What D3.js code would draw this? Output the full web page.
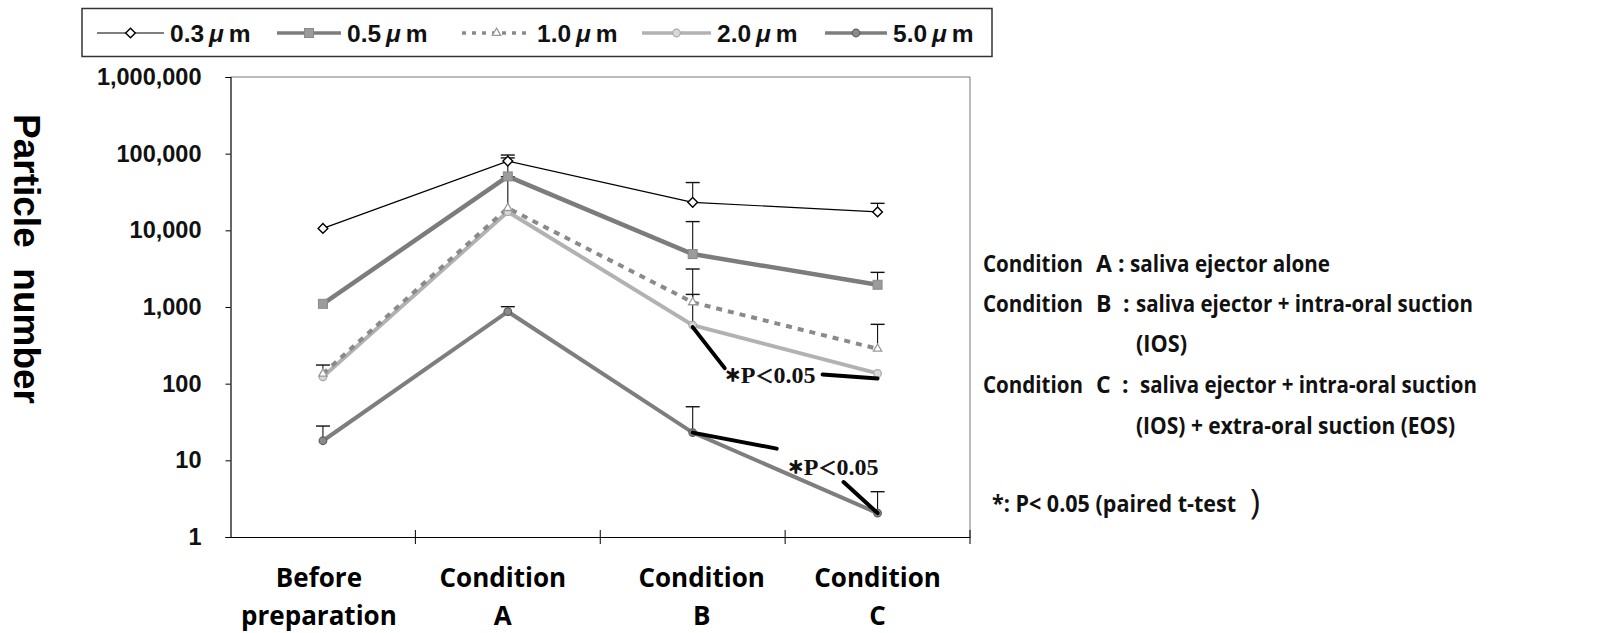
<!DOCTYPE html>
<html>
<head>
<meta charset="utf-8">
<script src="https://cdn.jsdelivr.net/npm/d3@7"></script>
<style>
  body { margin: 0; background: #fff; }
  svg { display: block; }
</style>
</head>
<body>
<svg width="1622" height="633"></svg>
<script>
// categories on the x axis
const categories = ["Before preparation", "Condition A", "Condition B", "Condition C"];
const categoryLines = [["Before", "preparation"], ["Condition", "A"], ["Condition", "B"], ["Condition", "C"]];

// particle sizes (legend)
const sizeLabels = ["0.3", "0.5", "1.0", "2.0", "5.0"];

// mean particle numbers per category
const p03 = [10600, 80000, 23200, 17400];
const p05 = [1100, 50500, 4900, 1950];
const p10 = [135, 19500, 1150, 285];
const p20 = [123, 17500, 580, 136];
const p50 = [18, 870, 23, 2.05];

// upper end of error bars (null = no bar visible)
const e03 = [null, 96000, 42000, 22500];
const e05 = [null, 88000, 13000, 2830];
const e10 = [175, 50000, 3130, 594];
const e20 = [null, null, 1460, null];
const e50 = [28, 1010, 50, 3.9];

const yTicks = [1, 10, 100, 1000, 10000, 100000, 1000000];

// right-hand explanation
const notes = [
    { cond: "A", text: "saliva ejector alone", colonX: 1118, tx: 1130, w: 200, y: 272 },
    { cond: "B", text: "saliva ejector + intra-oral suction", colonX: 1123, tx: 1136, w: 337, y: 312 },
    { cond: "", text: "(IOS)", tx: 1136, w: 51, y: 352 },
    { cond: "C", text: "saliva ejector + intra-oral suction", colonX: 1122, tx: 1140, w: 337, y: 393 },
    { cond: "", text: "(IOS) + extra-oral suction (EOS)", tx: 1136, w: 319, y: 434 }
];

const svg = d3.select("svg");
const plotL = 230.5, plotR = 970, plotT = 77, plotB = 537;

const x = d3.scaleBand().domain(categories).range([plotL, plotR]);
const y = d3.scaleLog().domain([1, 1e6]).range([plotB, plotT]);
const cx = i => x(categories[i]) + x.bandwidth() / 2;

const series = [
    { vals: p03, err: e03, color: "#000", width: 1.2, dash: null, marker: "diamond" },
    { vals: p05, err: e05, color: "#7c7c7c", width: 4.5, dash: null, marker: "square" },
    { vals: p10, err: e10, color: "#8a8a8a", width: 4, dash: "6,6", marker: "triangle" },
    { vals: p20, err: e20, color: "#b2b2b2", width: 4, dash: null, marker: "circle" },
    { vals: p50, err: e50, color: "#7e7e7e", width: 4, dash: null, marker: "circle5" }
];

function drawMarker(g, type, px, py) {
    if (type === "diamond") {
        g.append("path").attr("d", d3.symbol(d3.symbolDiamond2, 60)())
            .attr("transform", `translate(${px},${py})`)
            .attr("fill", "#fff").attr("stroke", "#000").attr("stroke-width", 1.4);
    } else if (type === "square") {
        g.append("rect").attr("x", px - 4.5).attr("y", py - 4.5).attr("width", 9).attr("height", 9)
            .attr("fill", "#9c9c9c").attr("stroke", "#8a8a8a");
    } else if (type === "triangle") {
        g.append("path").attr("d", d3.symbol(d3.symbolTriangle2, 50)())
            .attr("transform", `translate(${px},${py})`)
            .attr("fill", "#fff").attr("stroke", "#9a9a9a").attr("stroke-width", 1.3);
    } else if (type === "circle") {
        g.append("circle").attr("cx", px).attr("cy", py).attr("r", 3.8)
            .attr("fill", "#d8d8d8").attr("stroke", "#a8a8a8").attr("stroke-width", 1.2);
    } else {
        g.append("circle").attr("cx", px).attr("cy", py).attr("r", 3.8)
            .attr("fill", "#8a8a8a").attr("stroke", "#5e5e5e").attr("stroke-width", 1.2);
    }
}

// plot frame (top / right in grey)
svg.append("line").attr("x1", plotL).attr("x2", plotR).attr("y1", plotT).attr("y2", plotT)
    .attr("stroke", "#777").attr("stroke-width", 1);
svg.append("line").attr("x1", plotR).attr("x2", plotR).attr("y1", plotT).attr("y2", plotB)
    .attr("stroke", "#777").attr("stroke-width", 1);

// y axis
const yAxis = svg.append("g").attr("transform", `translate(${plotL},0)`)
    .call(d3.axisLeft(y).tickValues(yTicks).tickFormat(d3.format(",")).tickSize(5).tickPadding(24));
yAxis.select(".domain").attr("stroke", "#000").attr("stroke-width", 1.2);
yAxis.selectAll(".tick line").attr("stroke", "#000");
yAxis.selectAll(".tick text")
    .attr("font-family", "'Liberation Sans', Arial, sans-serif")
    .attr("font-weight", "bold").attr("font-size", 23.5).attr("fill", "#111");

// x axis
const xAxis = svg.append("g").attr("transform", `translate(0,${plotB})`)
    .call(d3.axisBottom(x).tickSize(0).tickFormat(""));
xAxis.select(".domain").attr("stroke", "#000").attr("stroke-width", 1.2);
svg.append("g").selectAll("line")
    .data(categories.slice(1).map(c => x(c)).concat([plotR]))
    .join("line")
    .attr("x1", d => d).attr("x2", d => d)
    .attr("y1", plotB - 7).attr("y2", plotB + 7)
    .attr("stroke", "#000");

const labelShift = [-4, -5, 9, 0];
const xl = svg.append("g");
categoryLines.forEach((lines, i) => {
    lines.forEach((t, j) => {
        xl.append("text").attr("x", cx(i) + labelShift[i])
            .attr("y", 587 + j * 38)
            .attr("text-anchor", "middle")
            .attr("font-family", "'Open Sans', sans-serif")
            .attr("font-weight", "bold").attr("font-size", 26)
            .text(t);
    });
});

// y title
svg.append("text")
    .attr("transform", "translate(14,259) rotate(90)")
    .attr("text-anchor", "middle")
    .attr("font-family", "'Liberation Sans', Arial, sans-serif")
    .attr("font-weight", "bold").attr("font-size", 37)
    .style("white-space", "pre")
    .text("Particle  number");

// error bars
const eg = svg.append("g");
series.forEach(s => {
    s.err.forEach((e, i) => {
        if (e == null) return;
        eg.append("line").attr("x1", cx(i)).attr("x2", cx(i))
            .attr("y1", y(s.vals[i])).attr("y2", y(e))
            .attr("stroke", "#111").attr("stroke-width", 1.1);
        eg.append("line").attr("x1", cx(i) - 7).attr("x2", cx(i) + 7)
            .attr("y1", y(e)).attr("y2", y(e))
            .attr("stroke", "#111").attr("stroke-width", 1.4);
    });
});

// lines and markers, 5.0 first so 0.3 sits on top
const line = d3.line().x((d, i) => cx(i)).y(d => y(d));
const lg = svg.append("g");
series.slice().reverse().forEach(s => {
    lg.append("path").datum(s.vals).attr("d", line)
        .attr("fill", "none").attr("stroke", s.color).attr("stroke-width", s.width)
        .attr("stroke-dasharray", s.dash);
});
series.slice().reverse().forEach(s => {
    s.vals.forEach((v, i) => drawMarker(lg, s.marker, cx(i), y(v)));
});

// significance annotations
const ag = svg.append("g");
function callout(x1, y1, x2, y2) {
    ag.append("line").attr("x1", x1).attr("y1", y1).attr("x2", x2).attr("y2", y2)
        .attr("stroke", "#000").attr("stroke-width", 4).attr("stroke-linecap", "round");
}
function pLabel(px, py) {
    const t = ag.append("text").attr("x", px).attr("y", py)
        .attr("font-family", "'Liberation Serif', 'Times New Roman', 'Noto Sans CJK JP', serif")
        .attr("font-size", 24).attr("font-weight", "bold").attr("fill", "#111");
    t.append("tspan").attr("font-size", 16)
        .attr("stroke", "#111").attr("stroke-width", 1.3).attr("dy", -2).text("＊");
    t.append("tspan").attr("dy", 2).text("P");
    t.append("tspan").attr("font-size", 18).attr("font-weight", "normal")
        .attr("stroke", "#111").attr("stroke-width", 0.8).text("＜");
    t.append("tspan").text("0.05");
}
// 2.0 um: B vs C
const b20 = [cx(2), y(p20[2])], c20 = [cx(3), y(p20[3])];
callout(b20[0], b20[1] + 2, b20[0] + 32, b20[1] + 43);
pLabel(b20[0] + 32, b20[1] + 58);
callout(c20[0] - 55, c20[1] + 1, c20[0], c20[1] + 5);
// 5.0 um: B vs C
const b50 = [cx(2), y(p50[2])], c50 = [cx(3), y(p50[3])];
callout(b50[0], b50[1], b50[0] + 84, b50[1] + 16);
pLabel(b50[0] + 95, b50[1] + 42);
callout(c50[0] - 34, c50[1] - 31, c50[0], c50[1]);

// legend
const leg = svg.append("g");
leg.append("rect").attr("x", 82).attr("y", 8.5).attr("width", 910).attr("height", 48)
    .attr("fill", "#fff").attr("stroke", "#333").attr("stroke-width", 1.5);
const legX = [97, 277, 462, 642, 825];
const legTextX = [170, 347, 537, 717, 893];
series.forEach((s, i) => {
    const x0 = legX[i], x1 = legTextX[i] - 6, my = 33;
    leg.append("line").attr("x1", x0).attr("x2", x1).attr("y1", my).attr("y2", my)
        .attr("stroke", s.color).attr("stroke-width", Math.min(s.width, 3.5))
        .attr("stroke-dasharray", s.dash ? "4,6" : null);
    drawMarker(leg, s.marker, (x0 + x1) / 2, my);
    const t = leg.append("text").attr("x", legTextX[i]).attr("y", 42)
        .attr("font-family", "'Liberation Sans', Arial, sans-serif")
        .attr("font-weight", "bold").attr("font-size", 24.5).attr("fill", "#111");
    t.append("tspan").text(sizeLabels[i]);
    t.append("tspan").attr("dx", 5).attr("font-style", "italic").text("μ");
    t.append("tspan").attr("dx", 5).text("m");
});

// condition notes on the right
const ng = svg.append("g")
    .attr("font-family", "'Open Sans', sans-serif").attr("font-weight", "bold")
    .attr("font-size", 23).attr("fill", "#111");
notes.forEach(n => {
    if (n.cond) {
        ng.append("text").attr("x", 983).attr("y", n.y)
            .attr("textLength", 100).attr("lengthAdjust", "spacingAndGlyphs").text("Condition");
        ng.append("text").attr("x", 1096).attr("y", n.y).text(n.cond);
        ng.append("text").attr("x", n.colonX).attr("y", n.y).text(":");
    }
    ng.append("text").attr("x", n.tx).attr("y", n.y)
        .attr("textLength", n.w).attr("lengthAdjust", "spacingAndGlyphs").text(n.text);
});
ng.append("text").attr("x", 992).attr("y", 512)
    .attr("textLength", 244).attr("lengthAdjust", "spacingAndGlyphs")
    .text("*: P< 0.05 (paired t-test");
ng.append("text").attr("x", 1250).attr("y", 514).attr("font-size", 34).attr("font-weight", "normal").text(")");
</script>
</body>
</html>
